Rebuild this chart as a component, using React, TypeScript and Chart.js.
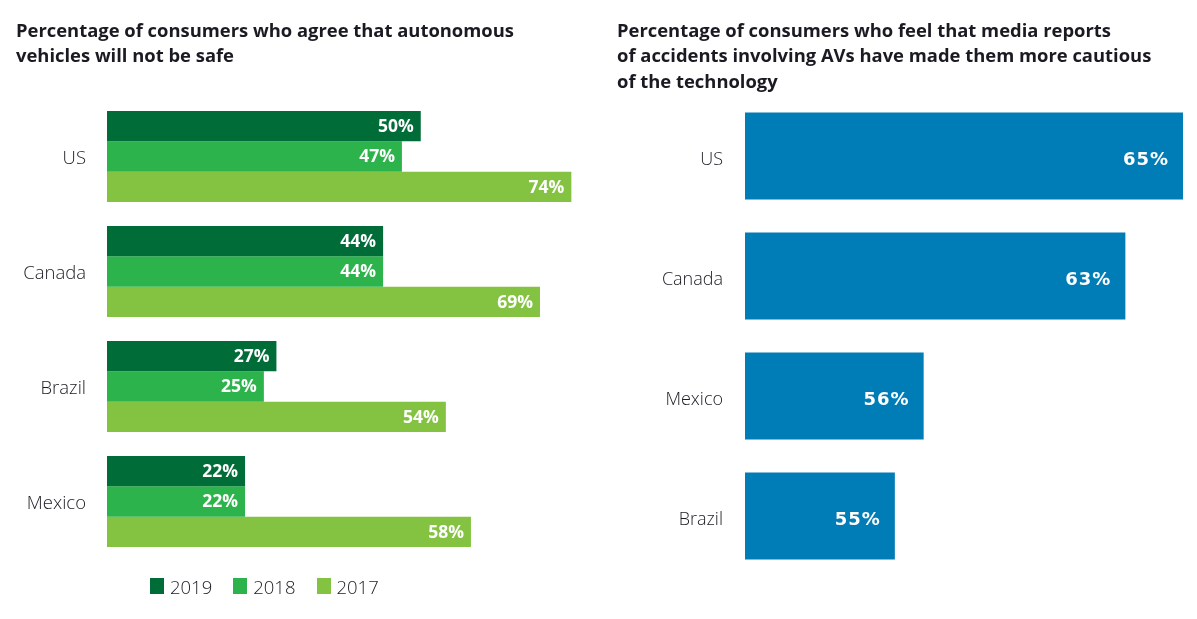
import React, { useEffect, useRef } from "react";
import { Chart, registerables } from "chart.js";

Chart.register(...registerables);

// ---- data ----
const leftTitle = ["Percentage of consumers who agree that autonomous", "vehicles will not be safe"];
const rightTitle = [
  "Percentage of consumers who feel that media reports",
  "of accidents involving AVs have made them more cautious",
  "of the technology",
];
const leftCategories = ["US", "Canada", "Brazil", "Mexico"];
const seriesLabels = ["2019", "2018", "2017"];
const values2019 = [50, 44, 27, 22];
const values2018 = [47, 44, 25, 22];
const values2017 = [74, 69, 54, 58];
const rightCategories = ["US", "Canada", "Mexico", "Brazil"];
const rightValues = [65, 63, 56, 55];

const seriesColors = ["#006C38", "#2DB34B", "#83C341"];
const rightColor = "#007CB6";
const textColor = "#1a1a22";

function valueLabelPlugin(font: string, pad: number, spacing: string, dy: number) {
  return {
    id: "valueLabels",
    afterDatasetsDraw(chart: any) {
      const ctx = chart.ctx;
      ctx.save();
      ctx.fillStyle = "#ffffff";
      ctx.font = font;
      (ctx as any).letterSpacing = spacing;
      ctx.textAlign = "right";
      ctx.textBaseline = "middle";
      chart.data.datasets.forEach((ds: any, i: number) => {
        const meta = chart.getDatasetMeta(i);
        meta.data.forEach((el: any, j: number) => {
          ctx.fillText(ds.data[j] + "%", el.x - pad, el.y + dy);
        });
      });
      ctx.restore();
    },
  };
}

const leftTickFont = { family: "'Open Sans'", size: 18.5, weight: "300" as any };
const rightTickFont = { family: "'Open Sans'", size: 18, weight: "300" as any };

function LeftChart() {
  const ref = useRef<HTMLCanvasElement>(null);
  useEffect(() => {
    const values = [values2019, values2018, values2017];
    const chart = new Chart(ref.current!, {
      type: "bar",
      data: {
        labels: leftCategories,
        datasets: seriesLabels.map((l, i) => ({
          label: l,
          data: values[i],
          backgroundColor: seriesColors[i],
          borderWidth: 0,
          barPercentage: 1,
          categoryPercentage: 0.79,
        })),
      },
      options: {
        indexAxis: "y",
        animation: false,
        responsive: false,
        layout: { padding: { top: 99, bottom: 60, left: 0, right: 11 } },
        plugins: { legend: { display: false }, tooltip: { enabled: false } },
        scales: {
          x: { display: false, min: 0, max: 80 },
          y: {
            grid: { display: false, drawTicks: false },
            border: { display: false },
            ticks: { font: leftTickFont, color: textColor, padding: 21, labelOffset: 2.5 },
            afterFit: (s: any) => {
              s.width = 107;
            },
          },
        },
      },
      plugins: [valueLabelPlugin("bold 17.5px 'Open Sans'", 7, "0px", 1)],
    } as any);
    return () => chart.destroy();
  }, []);
  return <canvas ref={ref} width={620} height={619} style={{ position: "absolute", left: 0, top: 0 }} />;
}

function RightChart() {
  const ref = useRef<HTMLCanvasElement>(null);
  useEffect(() => {
    const chart = new Chart(ref.current!, {
      type: "bar",
      data: {
        labels: rightCategories,
        datasets: [
          {
            label: "share",
            data: rightValues,
            backgroundColor: rightColor,
            borderWidth: 0,
            barPercentage: 1,
            categoryPercentage: 0.725,
          },
        ],
      },
      options: {
        indexAxis: "y",
        animation: false,
        responsive: false,
        layout: { padding: { top: 96, bottom: 43, left: 0, right: 14 } },
        plugins: { legend: { display: false }, tooltip: { enabled: false } },
        scales: {
          x: { display: false, min: 49.8, max: 65 },
          y: {
            grid: { display: false, drawTicks: false },
            border: { display: false },
            ticks: { font: rightTickFont, color: textColor, padding: 22, labelOffset: 3.5 },
            afterFit: (s: any) => {
              s.width = 125;
            },
          },
        },
      },
      plugins: [valueLabelPlugin("bold 18px 'DejaVu Sans'", 14, "1px", 4)],
    } as any);
    return () => chart.destroy();
  }, []);
  return <canvas ref={ref} width={577} height={619} style={{ position: "absolute", left: 620, top: 0 }} />;
}

const titleStyle: React.CSSProperties = {
  position: "absolute",
  fontFamily: "'Open Sans'",
  fontWeight: 700,
  fontSize: 18.4,
  lineHeight: "25.5px",
  color: textColor,
  whiteSpace: "nowrap",
};

export default function App() {
  return (
    <div style={{ position: "absolute", left: 0, top: 0, width: 1197, height: 619, background: "#fff", overflow: "hidden" }}>
      <LeftChart />
      <RightChart />
      <div style={{ ...titleStyle, left: 16, top: 16.5 }}>
        {leftTitle.map((t) => (
          <div key={t}>{t}</div>
        ))}
      </div>
      <div style={{ ...titleStyle, left: 617, top: 16.5 }}>
        {rightTitle.map((t) => (
          <div key={t}>{t}</div>
        ))}
      </div>
      <div style={{ position: "absolute", left: 150, top: 576, display: "flex", alignItems: "center", height: 20 }}>
        {seriesLabels.map((l, i) => (
          <div key={l} style={{ display: "flex", alignItems: "center", marginRight: 21 }}>
            <div style={{ width: 14, height: 16, background: seriesColors[i], marginRight: 6 }} />
            <span style={{ fontFamily: "'Open Sans'", fontWeight: 300, fontSize: 18.5, color: textColor }}>{l}</span>
          </div>
        ))}
      </div>
    </div>
  );
}
